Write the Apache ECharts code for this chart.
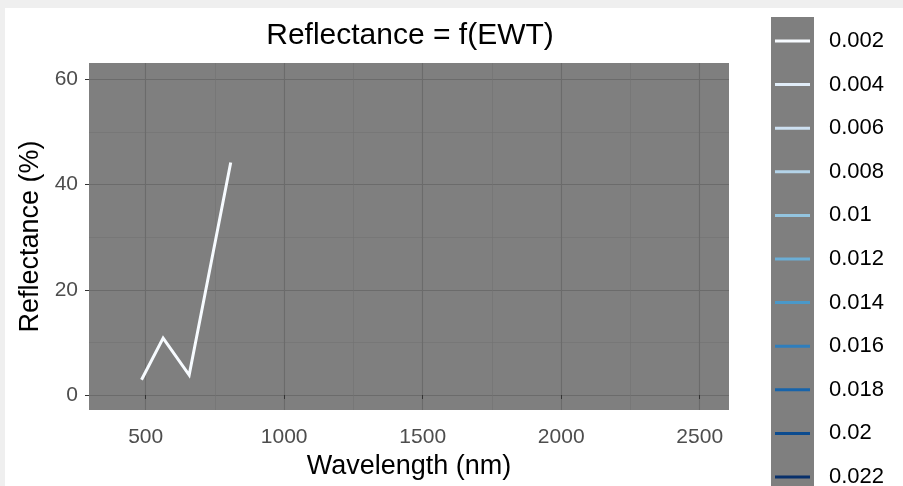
<!DOCTYPE html>
<html>
<head>
<meta charset="utf-8">
<script src="https://cdn.jsdelivr.net/npm/echarts@6/dist/echarts.min.js"></script>
<style>
  html, body { margin: 0; padding: 0; background: #efefef; width: 903px; height: 486px; overflow: hidden; }
  #chart { position: absolute; left: 5px; top: 8px; width: 898px; height: 478px; background: #ffffff; }
</style>
</head>
<body>
<div id="chart"></div>
<script>
// EWT levels shown in the legend and their colours (light to dark blue)
const ewtLevels = ['0.002', '0.004', '0.006', '0.008', '0.01', '0.012', '0.014', '0.016', '0.018', '0.02', '0.022'];
const levelColors = ['#f7fbff', '#e1edf8', '#cde0f1', '#b3d3e8', '#93c4df', '#6baed6', '#4a98c9', '#2f7ebc', '#1764ab', '#0b4b8f', '#08306b'];

// Reflectance curve for EWT = 0.002
const wavelength = [485, 563, 657, 807];
const reflectance = [2.9, 10.8, 3.8, 44.2];

// Axis ticks
const xMajorTicks = [500, 1000, 1500, 2000, 2500];
const xMinorTicks = [750, 1250, 1750, 2250];
const yMajorTicks = [0, 20, 40, 60];
const yMinorTicks = [10, 30, 50];

const X_MIN = 295.4, X_MAX = 2605.7;
const Y_MIN = -2.85, Y_MAX = 63.1;

const FONT = '"Liberation Sans", Arial, sans-serif';

const curves = { '0.002': wavelength.map((w, i) => [w, reflectance[i]]) };

const chart = echarts.init(document.getElementById('chart'));

const series = ewtLevels.map((lvl, i) => ({
  name: lvl,
  type: 'line',
  data: curves[lvl] || [],
  color: levelColors[i],
  showSymbol: false,
  symbol: 'none',
  lineStyle: { width: 3, color: levelColors[i], cap: 'butt', join: 'miter' },
  itemStyle: { color: levelColors[i] },
  animation: false,
  z: 3
}));

const majorGrid = { show: true, lineStyle: { color: '#6b6b6b', width: 1.1 } };
const minorGrid = { show: true, lineStyle: { color: '#727272', width: 0.6 } };
const plainNumber = v => String(v);

chart.setOption({
  backgroundColor: '#ffffff',
  animation: false,
  textStyle: { fontFamily: FONT },
  grid: {
    left: 84, top: 55, width: 640, height: 347,
    show: true, backgroundColor: '#7f7f7f', borderWidth: 0
  },
  graphic: [
    {
      type: 'rect', z: -1, silent: true,
      shape: { x: 766, y: 9, width: 43, height: 480 },
      style: { fill: '#7f7f7f' }
    },
    {
      type: 'text', silent: true,
      x: 405, y: 28,
      style: {
        text: 'Reflectance = f(EWT)', fill: '#000000',
        font: '30px ' + FONT, textAlign: 'center', textVerticalAlign: 'middle'
      }
    }
  ],
  legend: {
    orient: 'vertical',
    left: 770, top: 21, height: 600,
    icon: 'rect',
    itemWidth: 35, itemHeight: 3,
    itemGap: 19.6,
    padding: 0,
    selectedMode: false,
    textStyle: { fontSize: 22, lineHeight: 24, color: '#000000', fontFamily: FONT, padding: [0, 0, 0, 14] },
    data: ewtLevels
  },
  xAxis: [
    {
      type: 'value', min: X_MIN, max: X_MAX,
      axisLine: { show: false },
      axisTick: { show: true, length: 4, lineStyle: { color: '#333333', width: 1 }, customValues: xMajorTicks },
      axisLabel: { customValues: xMajorTicks, formatter: plainNumber, color: '#4d4d4d', fontSize: 21, margin: 17, fontFamily: FONT },
      splitLine: majorGrid,
      name: 'Wavelength (nm)', nameLocation: 'middle', nameGap: 43,
      nameTextStyle: { fontSize: 27, color: '#000000', fontFamily: FONT }
    },
    {
      type: 'value', min: X_MIN, max: X_MAX, position: 'bottom',
      axisLine: { show: false },
      axisTick: { show: false, customValues: xMinorTicks },
      axisLabel: { show: false, customValues: xMinorTicks },
      splitLine: minorGrid
    }
  ],
  yAxis: [
    {
      type: 'value', min: Y_MIN, max: Y_MAX,
      axisLine: { show: false },
      axisTick: { show: true, length: 4, lineStyle: { color: '#333333', width: 1 }, customValues: yMajorTicks },
      axisLabel: { customValues: yMajorTicks, formatter: plainNumber, color: '#4d4d4d', fontSize: 21, margin: 11, fontFamily: FONT },
      splitLine: majorGrid,
      name: 'Reflectance (%)', nameLocation: 'middle', nameGap: 41,
      nameTextStyle: { fontSize: 27, color: '#000000', fontFamily: FONT }
    },
    {
      type: 'value', min: Y_MIN, max: Y_MAX, position: 'left',
      axisLine: { show: false },
      axisTick: { show: false, customValues: yMinorTicks },
      axisLabel: { show: false, customValues: yMinorTicks },
      splitLine: minorGrid
    }
  ],
  series: series
});
</script>
</body>
</html>
